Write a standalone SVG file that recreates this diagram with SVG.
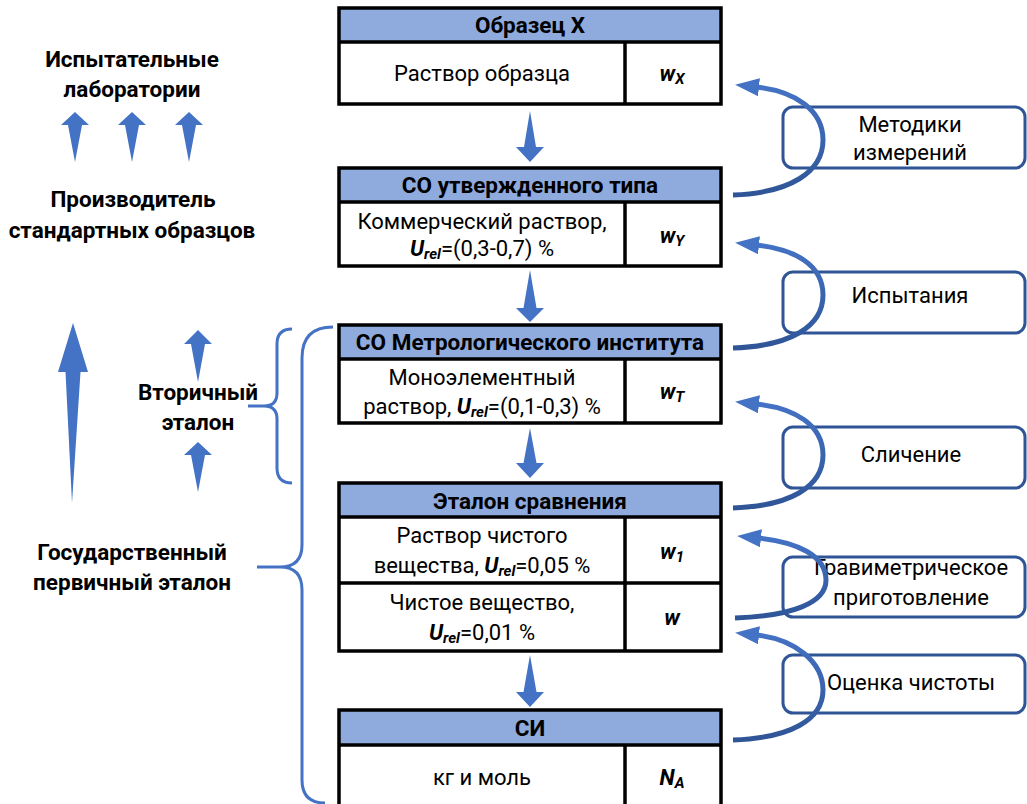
<svg xmlns="http://www.w3.org/2000/svg" width="1027" height="804" viewBox="0 0 1027 804">
<defs>
<style>
text{font-family:Roboto,"Liberation Sans",sans-serif;fill:#000}
.h{font-size:22.5px;font-weight:bold;text-anchor:middle}
.b{font-size:22px;text-anchor:middle}
.l{font-size:22.5px;font-weight:bold;text-anchor:middle}
.r{font-size:22px;text-anchor:middle}
.bi{font-weight:bold;font-style:italic}
.sub{font-size:15px;font-weight:bold;font-style:italic}
.hdr{fill:#8FAADC}
.body{fill:#fff}
.frame{fill:none;stroke:#000;stroke-width:3.5}
.div{stroke:#000;stroke-width:3.5}
.rbox{fill:none;stroke:#2F5597;stroke-width:3}
.fa{fill:#4472C4}
.brace{fill:none;stroke:#4472C4;stroke-width:3}
.curve{fill:none;stroke:url(#cg);stroke-width:5;marker-end:url(#ah)}
</style>
<linearGradient id="cg" x1="0" y1="0" x2="0" y2="1">
<stop offset="0" stop-color="#4472C4"/>
<stop offset="1" stop-color="#2F5597"/>
</linearGradient>
<marker id="ah" markerUnits="userSpaceOnUse" markerWidth="24" markerHeight="18" viewBox="0 0 24 18" refX="3" refY="9" orient="auto">
<path d="M0,0 L24,9 L0,18 z" fill="#4472C4"/>
</marker>
</defs>

<g id="labels-left">
<text class="l" x="132" y="67">Испытательные</text>
<text class="l" x="132" y="97">лаборатории</text>
<text class="l" x="133" y="207">Производитель</text>
<text class="l" x="132" y="238">стандартных образцов</text>
<text class="l" x="198" y="400">Вторичный</text>
<text class="l" x="198" y="430">эталон</text>
<text class="l" x="132" y="560">Государственный</text>
<text class="l" x="132" y="590">первичный эталон</text>
</g>

<g id="node-x">
<rect class="hdr" x="339" y="8" width="382" height="34"/>
<rect class="body" x="339" y="42" width="382" height="62"/>
<rect class="frame" x="339" y="8" width="382" height="96"/>
<line class="div" x1="339" y1="42" x2="721" y2="42"/>
<line class="div" x1="625" y1="42" x2="625" y2="104"/>
<text class="h" x="530" y="33">Образец X</text>
<text class="b" x="482" y="81">Раствор образца</text>
<text class="b bi" x="672" y="81">w<tspan class="sub" dy="3">X</tspan></text>
</g>

<g id="node-co-type">
<rect class="hdr" x="339" y="168" width="382" height="34"/>
<rect class="body" x="339" y="202" width="382" height="64"/>
<rect class="frame" x="339" y="168" width="382" height="98"/>
<line class="div" x1="339" y1="202" x2="721" y2="202"/>
<line class="div" x1="625" y1="202" x2="625" y2="266"/>
<text class="h" x="530" y="193">СО утвержденного типа</text>
<text class="b" x="482" y="229">Коммерческий раствор,</text>
<text class="b" x="482" y="256"><tspan class="bi">U</tspan><tspan class="sub" dy="3">rel</tspan><tspan dy="-3">=(0,3-0,7) %</tspan></text>
<text class="b bi" x="672" y="243">w<tspan class="sub" dy="3">Y</tspan></text>
</g>

<g id="node-co-inst">
<rect class="hdr" x="339" y="325" width="382" height="34"/>
<rect class="body" x="339" y="359" width="382" height="64"/>
<rect class="frame" x="339" y="325" width="382" height="98"/>
<line class="div" x1="339" y1="359" x2="721" y2="359"/>
<line class="div" x1="625" y1="359" x2="625" y2="423"/>
<text class="h" x="530" y="350">СО Метрологического института</text>
<text class="b" x="482" y="385">Моноэлементный</text>
<text class="b" x="482" y="414">раствор, <tspan class="bi">U</tspan><tspan class="sub" dy="3">rel</tspan><tspan dy="-3">=(0,1-0,3) %</tspan></text>
<text class="b bi" x="672" y="399">w<tspan class="sub" dy="3">T</tspan></text>
</g>

<g id="node-etalon">
<rect class="hdr" x="339" y="483" width="382" height="34"/>
<rect class="body" x="339" y="517" width="382" height="134"/>
<rect class="frame" x="339" y="483" width="382" height="168"/>
<line class="div" x1="339" y1="517" x2="721" y2="517"/>
<line class="div" x1="339" y1="583" x2="721" y2="583"/>
<line class="div" x1="625" y1="517" x2="625" y2="651"/>
<text class="h" x="530" y="509">Эталон сравнения</text>
<text class="b" x="482" y="543">Раствор чистого</text>
<text class="b" x="482" y="573">вещества, <tspan class="bi">U</tspan><tspan class="sub" dy="3">rel</tspan><tspan dy="-3">=0,05 %</tspan></text>
<text class="b bi" x="672" y="559">w<tspan class="sub" dy="3">1</tspan></text>
<text class="b" x="482" y="610">Чистое вещество,</text>
<text class="b" x="482" y="640"><tspan class="bi">U</tspan><tspan class="sub" dy="3">rel</tspan><tspan dy="-3">=0,01 %</tspan></text>
<text class="b bi" x="672" y="625">w</text>
</g>

<g id="node-si">
<rect class="hdr" x="339" y="710" width="382" height="35"/>
<rect class="body" x="339" y="745" width="382" height="70"/>
<rect class="frame" x="339" y="710" width="382" height="105"/>
<line class="div" x1="339" y1="745" x2="721" y2="745"/>
<line class="div" x1="625" y1="745" x2="625" y2="815"/>
<text class="h" x="530" y="736">СИ</text>
<text class="b" x="482" y="785">кг и моль</text>
<text class="b bi" x="672" y="785">N<tspan class="sub" dy="3">A</tspan></text>
</g>

<g id="node-methods">
<rect class="rbox" x="783" y="107" width="242" height="61" rx="10"/>
<text class="r" x="910" y="132">Методики</text>
<text class="r" x="910" y="160">измерений</text>
</g>
<g id="node-tests">
<rect class="rbox" x="783" y="272" width="242" height="61" rx="10"/>
<text class="r" x="910" y="303">Испытания</text>
</g>
<g id="node-compare">
<rect class="rbox" x="783" y="427" width="242" height="61" rx="10"/>
<text class="r" x="911" y="462">Сличение</text>
</g>
<g id="node-grav">
<rect class="rbox" x="783" y="557" width="242" height="60" rx="10"/>
<text class="r" x="911" y="575">Гравиметрическое</text>
<text class="r" x="911" y="605">приготовление</text>
</g>
<g id="node-purity">
<rect class="rbox" x="783" y="655" width="242" height="58" rx="10"/>
<text class="r" x="911" y="690">Оценка чистоты</text>
</g>

<g id="connectors">
<polygon class="fa" points="530,111 536,147 544,147 530,162 516,147 524,147"/>
<polygon class="fa" points="530,270 536.5,308 544,308 530,322 516,308 523.5,308"/>
<polygon class="fa" points="530,428 536.5,463 544,463 530,478 516,463 523.5,463"/>
<polygon class="fa" points="530,655 536.5,692 544,692 530,707 516,692 523.5,692"/>

<path class="curve" d="M733,195 C790,193 823,172 823,140 C823,110 795,91 756,87"/>
<path class="curve" d="M733,348 C790,346 823,327 823,295 C823,265 795,249 756,245"/>
<path class="curve" d="M733,508 C790,506 823,487 823,455 C823,425 795,408 756,404"/>
<path class="curve" d="M735,618 C792,616 826,603 826,580 C826,556 798,542 758,538"/>
<path class="curve" d="M733,740 C790,738 823,720 823,690 C823,662 795,639 756,635"/>

<polygon class="fa" points="75,112 89,125 82,125 75,162 68,125 61,125"/>
<polygon class="fa" points="132,112 146,125 139,125 132,162 125,125 118,125"/>
<polygon class="fa" points="189,112 203,125 196,125 189,162 182,125 175,125"/>
<polygon class="fa" points="73,323 88,372 80.5,372 72,503 65.5,372 58,372"/>
<polygon class="fa" points="198,330 212,344 205,344 198,382 191,344 184,344"/>
<polygon class="fa" points="198,442 212,455 205,455 198,492 191,455 184,455"/>

<path class="brace" d="M292,329 Q277,329 277,344 L277,393 Q277,406 264,406 L248,406 M264,406 Q277,406 277,419 L277,468 Q277,483 292,483"/>
<path class="brace" d="M333,327 Q302,327 302,358 L302,545 Q302,567 280,567 L257,567 M280,567 Q302,567 302,590 L302,780 Q302,803 325,803"/>
</g>
</svg>
